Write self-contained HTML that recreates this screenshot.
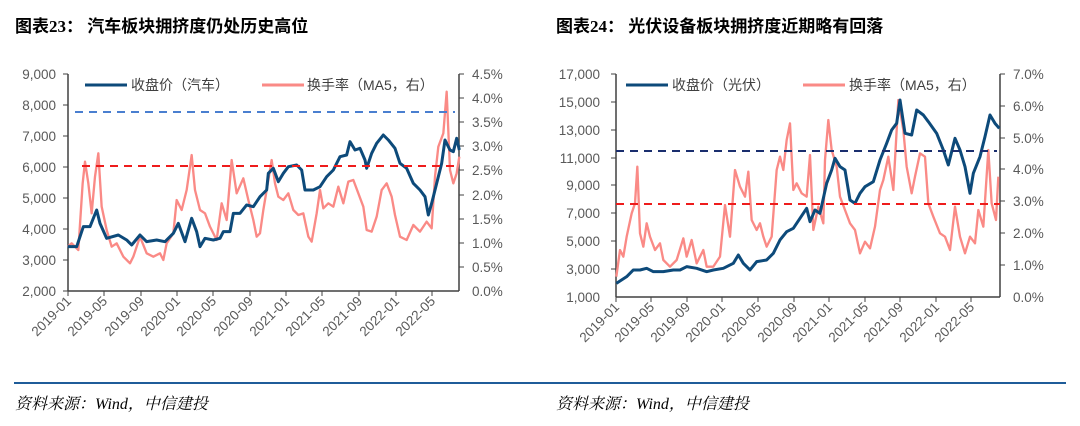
<!DOCTYPE html>
<html><head><meta charset="utf-8"><style>
html,body{margin:0;padding:0;background:#fff;}
svg{display:block;}
text{font-family:"Liberation Sans","Noto Sans CJK SC",sans-serif;}
.t{font-size:13.5px;fill:#595959;}
.ttl{font-family:"Liberation Serif","Noto Sans CJK SC",serif;font-size:17px;font-weight:bold;fill:#000;}
.src{font-family:"Liberation Serif","Noto Serif CJK SC",serif;font-size:16px;font-style:italic;fill:#000;}
.lg{font-size:14px;fill:#404040;}
</style></head><body>
<svg width="1080" height="426" viewBox="0 0 1080 426" xmlns="http://www.w3.org/2000/svg">
<text class="ttl" x="15" y="32">图表23：  汽车板块拥挤度仍处历史高位</text>
<text class="ttl" x="556" y="32">图表24：  光伏设备板块拥挤度近期略有回落</text>
<line x1="14" y1="383" x2="1066" y2="383" stroke="#1f5c99" stroke-width="2"/>
<text class="src" x="15" y="409">资料来源：Wind，中信建投</text>
<text class="src" x="556" y="409">资料来源：Wind，中信建投</text>

<!-- LEFT CHART -->
<g>
<line x1="68" y1="74" x2="68" y2="291" stroke="#404040" stroke-width="1.5"/>
<line x1="459" y1="74" x2="459" y2="291" stroke="#404040" stroke-width="1.5"/>
<line x1="68" y1="291" x2="459" y2="291" stroke="#404040" stroke-width="1.5"/>
<g stroke="#404040" stroke-width="1">
<line x1="63" y1="74" x2="68" y2="74"/><line x1="63" y1="105" x2="68" y2="105"/><line x1="63" y1="136" x2="68" y2="136"/><line x1="63" y1="167" x2="68" y2="167"/><line x1="63" y1="198" x2="68" y2="198"/><line x1="63" y1="229" x2="68" y2="229"/><line x1="63" y1="260" x2="68" y2="260"/><line x1="63" y1="291" x2="68" y2="291"/>
<line x1="459" y1="74" x2="464" y2="74"/><line x1="459" y1="98" x2="464" y2="98"/><line x1="459" y1="122" x2="464" y2="122"/><line x1="459" y1="146" x2="464" y2="146"/><line x1="459" y1="170" x2="464" y2="170"/><line x1="459" y1="195" x2="464" y2="195"/><line x1="459" y1="219" x2="464" y2="219"/><line x1="459" y1="243" x2="464" y2="243"/><line x1="459" y1="267" x2="464" y2="267"/>
<line x1="68" y1="291" x2="68" y2="296"/><line x1="104" y1="291" x2="104" y2="296"/><line x1="141" y1="291" x2="141" y2="296"/><line x1="177" y1="291" x2="177" y2="296"/><line x1="213" y1="291" x2="213" y2="296"/><line x1="250" y1="291" x2="250" y2="296"/><line x1="286" y1="291" x2="286" y2="296"/><line x1="322" y1="291" x2="322" y2="296"/><line x1="359" y1="291" x2="359" y2="296"/><line x1="396" y1="291" x2="396" y2="296"/><line x1="432" y1="291" x2="432" y2="296"/>
</g>
<g class="t" text-anchor="end">
<text x="56" y="79">9,000</text><text x="56" y="110">8,000</text><text x="56" y="141">7,000</text><text x="56" y="172">6,000</text><text x="56" y="203">5,000</text><text x="56" y="234">4,000</text><text x="56" y="265">3,000</text><text x="56" y="296">2,000</text>
</g>
<g class="t">
<text x="472" y="79">4.5%</text><text x="472" y="103">4.0%</text><text x="472" y="127">3.5%</text><text x="472" y="151">3.0%</text><text x="472" y="175">2.5%</text><text x="472" y="200">2.0%</text><text x="472" y="224">1.5%</text><text x="472" y="248">1.0%</text><text x="472" y="272">0.5%</text><text x="472" y="296">0.0%</text>
</g>
<g class="t" text-anchor="end">
<text transform="translate(72,302) rotate(-45)">2019-01</text><text transform="translate(108,302) rotate(-45)">2019-05</text><text transform="translate(145,302) rotate(-45)">2019-09</text><text transform="translate(181,302) rotate(-45)">2020-01</text><text transform="translate(217,302) rotate(-45)">2020-05</text><text transform="translate(254,302) rotate(-45)">2020-09</text><text transform="translate(290,302) rotate(-45)">2021-01</text><text transform="translate(326,302) rotate(-45)">2021-05</text><text transform="translate(363,302) rotate(-45)">2021-09</text><text transform="translate(400,302) rotate(-45)">2022-01</text><text transform="translate(436,302) rotate(-45)">2022-05</text>
</g>
<line x1="85" y1="85" x2="127" y2="85" stroke="#0d4a7a" stroke-width="3"/>
<text class="lg" x="131" y="90">收盘价（汽车）</text>
<line x1="262" y1="85" x2="304" y2="85" stroke="#fa8a86" stroke-width="3"/>
<text class="lg" x="307" y="90">换手率（MA5，右）</text>
<g transform="translate(0,50) scale(0.33333)" fill="none" stroke-linejoin="round">
<polyline stroke="#fa8a86" stroke-width="7" points="203,590 215,580 235,600 248,400 255,335 265,400 275,490 285,380 295,310 305,470 320,540 335,590 350,580 370,620 390,640 400,620 420,560 440,610 460,620 480,610 490,630 500,580 520,550 530,450 545,480 560,420 575,315 585,420 600,480 615,490 630,530 650,570 665,460 680,510 695,330 710,430 730,385 745,450 760,510 770,560 780,550 790,480 800,420 815,330 825,400 835,440 850,450 865,430 880,480 895,495 910,490 925,560 935,575 950,490 960,420 970,475 985,460 1000,470 1015,410 1030,460 1045,395 1060,390 1075,430 1090,470 1100,540 1115,545 1130,500 1145,420 1160,400 1175,440 1185,495 1200,560 1220,570 1240,525 1260,545 1280,515 1295,535 1305,380 1315,290 1330,250 1340,125 1350,360 1360,400 1370,370 1378,320"/>
<polyline stroke="#0d4a7a" stroke-width="9" points="203,590 230,590 250,530 270,530 290,480 300,520 320,565 355,555 380,570 395,585 420,555 440,575 470,570 495,575 520,550 535,520 555,575 575,505 590,545 600,590 615,565 640,570 660,565 670,545 690,545 700,490 720,490 740,465 760,470 780,440 800,420 805,370 820,355 835,395 850,370 865,350 890,345 905,360 915,420 940,420 960,410 980,380 1000,360 1020,320 1040,315 1050,275 1065,300 1080,295 1095,330 1100,355 1115,310 1130,280 1150,255 1165,270 1185,295 1200,340 1220,355 1240,400 1260,420 1275,440 1285,495 1295,460 1310,400 1325,340 1335,270 1350,300 1360,305 1370,265 1378,300"/>
</g>
<line x1="75" y1="112" x2="455" y2="112" stroke="#4a7fd0" stroke-width="2" stroke-dasharray="8,6"/>
<line x1="82" y1="166" x2="459" y2="166" stroke="#ee1c1c" stroke-width="2" stroke-dasharray="8,6"/>
</g>

<!-- RIGHT CHART -->
<g>
<line x1="616" y1="74" x2="616" y2="297" stroke="#404040" stroke-width="1.5"/>
<line x1="1000" y1="74" x2="1000" y2="297" stroke="#404040" stroke-width="1.5"/>
<line x1="616" y1="297" x2="1000" y2="297" stroke="#404040" stroke-width="1.5"/>
<g stroke="#404040" stroke-width="1">
<line x1="611" y1="74" x2="616" y2="74"/><line x1="611" y1="102" x2="616" y2="102"/><line x1="611" y1="130" x2="616" y2="130"/><line x1="611" y1="158" x2="616" y2="158"/><line x1="611" y1="185" x2="616" y2="185"/><line x1="611" y1="213" x2="616" y2="213"/><line x1="611" y1="241" x2="616" y2="241"/><line x1="611" y1="269" x2="616" y2="269"/>
<line x1="1000" y1="74" x2="1005" y2="74"/><line x1="1000" y1="106" x2="1005" y2="106"/><line x1="1000" y1="138" x2="1005" y2="138"/><line x1="1000" y1="169" x2="1005" y2="169"/><line x1="1000" y1="201" x2="1005" y2="201"/><line x1="1000" y1="233" x2="1005" y2="233"/><line x1="1000" y1="265" x2="1005" y2="265"/>
<line x1="616" y1="297" x2="616" y2="302"/><line x1="651" y1="297" x2="651" y2="302"/><line x1="687" y1="297" x2="687" y2="302"/><line x1="722" y1="297" x2="722" y2="302"/><line x1="758" y1="297" x2="758" y2="302"/><line x1="794" y1="297" x2="794" y2="302"/><line x1="829" y1="297" x2="829" y2="302"/><line x1="865" y1="297" x2="865" y2="302"/><line x1="900" y1="297" x2="900" y2="302"/><line x1="936" y1="297" x2="936" y2="302"/><line x1="971" y1="297" x2="971" y2="302"/>
</g>
<g class="t" text-anchor="end">
<text x="600" y="79">17,000</text><text x="600" y="107">15,000</text><text x="600" y="135">13,000</text><text x="600" y="163">11,000</text><text x="600" y="190">9,000</text><text x="600" y="218">7,000</text><text x="600" y="246">5,000</text><text x="600" y="274">3,000</text><text x="600" y="302">1,000</text>
</g>
<g class="t">
<text x="1013" y="79">7.0%</text><text x="1013" y="111">6.0%</text><text x="1013" y="143">5.0%</text><text x="1013" y="174">4.0%</text><text x="1013" y="206">3.0%</text><text x="1013" y="238">2.0%</text><text x="1013" y="270">1.0%</text><text x="1013" y="302">0.0%</text>
</g>
<g class="t" text-anchor="end">
<text transform="translate(620,308) rotate(-45)">2019-01</text><text transform="translate(655,308) rotate(-45)">2019-05</text><text transform="translate(691,308) rotate(-45)">2019-09</text><text transform="translate(726,308) rotate(-45)">2020-01</text><text transform="translate(762,308) rotate(-45)">2020-05</text><text transform="translate(798,308) rotate(-45)">2020-09</text><text transform="translate(833,308) rotate(-45)">2021-01</text><text transform="translate(869,308) rotate(-45)">2021-05</text><text transform="translate(904,308) rotate(-45)">2021-09</text><text transform="translate(940,308) rotate(-45)">2022-01</text><text transform="translate(975,308) rotate(-45)">2022-05</text>
</g>
<line x1="626" y1="85" x2="668" y2="85" stroke="#0d4a7a" stroke-width="3"/>
<text class="lg" x="672" y="90">收盘价（光伏）</text>
<line x1="803" y1="85" x2="845" y2="85" stroke="#fa8a86" stroke-width="3"/>
<text class="lg" x="849" y="90">换手率（MA5，右）</text>
<g transform="translate(540,50) scale(0.33333)" fill="none" stroke-linejoin="round">
<polyline stroke="#fa8a86" stroke-width="7" points="229,680 240,600 250,620 260,560 275,490 285,460 292,350 300,550 310,590 320,520 330,560 345,600 360,580 370,630 390,650 410,630 430,565 440,620 455,570 470,640 490,600 500,650 520,650 540,620 555,465 570,560 585,360 600,410 615,440 625,365 635,510 650,540 660,520 670,560 680,590 695,560 710,360 720,320 730,360 740,270 750,220 760,420 770,400 785,430 800,440 810,315 820,540 835,470 850,520 855,330 865,210 875,300 890,350 900,440 915,480 930,520 945,540 960,610 975,575 990,595 1005,530 1020,420 1030,390 1045,320 1060,420 1075,150 1090,240 1100,350 1115,430 1125,380 1140,310 1155,320 1165,460 1180,500 1200,550 1215,560 1230,600 1245,470 1260,560 1275,610 1290,560 1305,580 1315,480 1330,530 1345,300 1355,460 1368,510 1375,380"/>
<polyline stroke="#0d4a7a" stroke-width="9" points="229,700 260,680 280,660 300,660 320,655 340,665 370,665 400,660 420,660 440,650 470,655 500,665 520,660 550,655 580,640 595,615 610,640 630,660 650,635 680,630 700,610 720,570 740,545 760,535 780,505 800,475 810,515 825,480 840,490 860,400 875,360 885,325 900,350 915,360 930,450 945,460 960,430 975,410 1000,395 1020,330 1040,280 1055,240 1070,220 1080,150 1095,250 1115,255 1130,180 1150,195 1165,215 1190,250 1210,300 1225,345 1245,265 1260,300 1275,350 1290,430 1300,370 1320,320 1335,260 1350,195 1365,220 1378,235"/>
</g>
<line x1="616" y1="151" x2="997" y2="151" stroke="#1a2e6e" stroke-width="2" stroke-dasharray="8,6"/>
<line x1="616" y1="204" x2="1000" y2="204" stroke="#ee1c1c" stroke-width="2" stroke-dasharray="8,6"/>
</g>
</svg>
</body></html>
